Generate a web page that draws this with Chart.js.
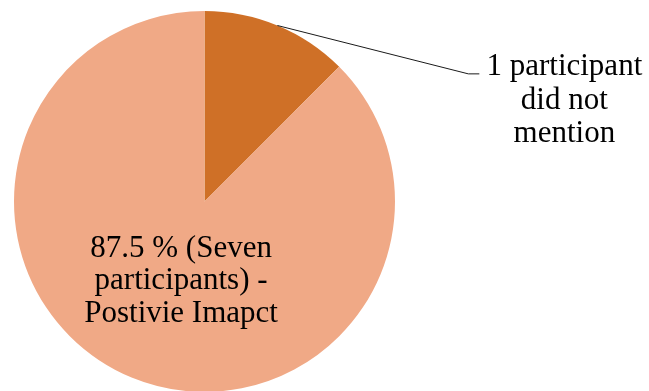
<!DOCTYPE html>
<html>
<head>
<meta charset="utf-8">
<script src="https://cdn.jsdelivr.net/npm/chart.js@4/dist/chart.umd.min.js"></script>
<style>
  html, body { margin: 0; padding: 0; background: #ffffff; overflow: hidden; }
  #wrap { width: 649px; height: 393px; }
</style>
</head>
<body>
<div id="wrap"><canvas id="c" width="649" height="393"></canvas></div>
<script>
// ---- data ----
const categories = ["1 participant did not mention", "87.5 % (Seven participants) - Postivie Imapct"];
const participants = [1, 7];
const labelLines = [
  ["1 participant", "did not", "mention"],
  ["87.5 % (Seven", "participants) -", "Postivie Imapct"]
];
const sliceColors = ["#CF7027", "#F0A986"];

const labelPlugin = {
  id: 'sliceLabels',
  afterDatasetsDraw(chart) {
    const ctx = chart.ctx;
    const meta = chart.getDatasetMeta(0);
    ctx.save();
    ctx.font = '31px "Liberation Serif", "Times New Roman", serif';
    ctx.fillStyle = '#000000';
    ctx.textAlign = 'center';
    ctx.textBaseline = 'alphabetic';
    const lh = 33.5;

    // small slice: external label with leader line
    {
      const a = meta.data[0];
      const p = a.getProps(['x', 'y', 'startAngle', 'endAngle', 'outerRadius'], true);
      const mid = (p.startAngle + p.endAngle) / 2;
      const r = p.outerRadius;
      const sx = p.x + Math.cos(mid) * r;
      const sy = p.y + Math.sin(mid) * r;
      const ex = p.x + r * 1.385;
      const ey = p.y - r * 0.67;
      ctx.strokeStyle = '#1a1a1a';
      ctx.lineWidth = 1;
      ctx.beginPath();
      ctx.moveTo(sx, sy);
      ctx.lineTo(ex, ey);
      ctx.lineTo(ex + 11, ey);
      ctx.stroke();
      const tx = ex + 96;
      const ty = ey + 1.5;
      labelLines[0].forEach((t, i) => ctx.fillText(t, tx, ty + i * lh));
    }

    // large slice: internal label
    {
      const a = meta.data[1];
      const p = a.getProps(['x', 'y', 'outerRadius'], true);
      const r = p.outerRadius;
      const tx = p.x - r * 0.123;
      const ty = p.y + r * 0.289;
      labelLines[1].forEach((t, i) => ctx.fillText(t, tx, ty + i * 32.5));
    }
    ctx.restore();
  }
};

new Chart(document.getElementById('c'), {
  type: 'pie',
  data: {
    labels: categories,
    datasets: [{
      data: participants,
      backgroundColor: sliceColors,
      borderWidth: 0
    }]
  },
  options: {
    responsive: false,
    devicePixelRatio: 1,
    animation: false,
    layout: { padding: { left: 14, top: 11, right: 254, bottom: 1 } },
    plugins: {
      legend: { display: false },
      tooltip: { enabled: false }
    }
  },
  plugins: [labelPlugin]
});
</script>
</body>
</html>
